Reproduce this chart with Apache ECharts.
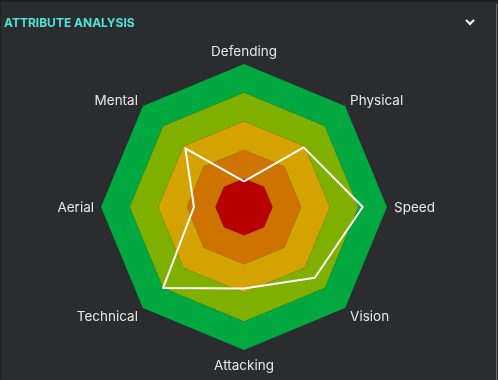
<!DOCTYPE html>
<html>
<head>
<meta charset="utf-8">
<script src="https://cdn.jsdelivr.net/npm/echarts@6/dist/echarts.min.js"></script>
<style>
html,body{margin:0;padding:0;background:#232427;}
#c{width:498px;height:380px;}
</style>
</head>
<body>
<div id="c"></div>
<script>
// Indicators listed counter-clockwise from the top (ECharts radar order)
const categories = ['Defending', 'Mental', 'Aerial', 'Technical', 'Attacking', 'Vision', 'Speed', 'Physical'];
const values = [18, 58, 35, 80, 57, 70, 83, 59];
const maxValue = 100;
const bandColors = ['#b80000', '#cf7300', '#d4a300', '#7fb000', '#00a83f'];

// per-position label style keys (top, diagonal-up, side, diagonal-down, bottom)
const labelKey = {
  Defending: 'top', Mental: 'up', Physical: 'up', Aerial: 'side', Speed: 'side',
  Technical: 'down', Vision: 'down', Attacking: 'bottom'
};
const base = {color: '#e8e8e8', fontSize: 13.5, fontFamily: 'Inter'};

const chart = echarts.init(document.getElementById('c'), null, {renderer: 'canvas'});
chart.setOption({
  backgroundColor: '#2b2c2f',
  animation: false,
  title: {
    text: 'ATTRIBUTE ANALYSIS',
    left: 4, top: 17,
    padding: 0,
    textStyle: {color: '#4fe3d6', fontSize: 12, fontWeight: 'bold', fontFamily: 'Inter'}
  },
  graphic: [
    {type: 'rect', shape: {x: 0, y: 0, width: 498, height: 2}, style: {fill: '#1f2022'}, silent: true},
    {type: 'rect', shape: {x: 0, y: 0, width: 1, height: 380}, style: {fill: '#1f2022'}, silent: true},
    {type: 'rect', shape: {x: 496, y: 4, width: 1, height: 376}, style: {fill: '#6a6b6e'}, silent: true},
    {type: 'polyline', shape: {points: [[466, 20], [470, 24], [474, 20]]},
     style: {stroke: '#ffffff', lineWidth: 2.2, fill: null}, silent: true}
  ],
  radar: {
    center: [244, 207],
    radius: 143,
    startAngle: 90,
    splitNumber: 5,
    shape: 'polygon',
    axisNameGap: 7,
    axisName: {
      color: '#e8e8e8', fontSize: 13.5, fontFamily: 'Inter',
      formatter: (name) => '{' + labelKey[name] + '|' + name + '}',
      rich: {
        top: Object.assign({lineHeight: 11}, base),
        up: Object.assign({}, base),
        side: Object.assign({padding: [2, 0, 0, 0]}, base),
        down: Object.assign({padding: [8, 0, 0, 0]}, base),
        bottom: Object.assign({padding: [2, 0, 0, 0]}, base)
      }
    },
    indicator: categories.map(n => ({name: n, max: maxValue, min: 0})),
    axisLine: {show: false},
    splitLine: {show: false},
    splitArea: {show: true, areaStyle: {color: bandColors, opacity: 1}}
  },
  series: [{
    type: 'radar',
    symbol: 'none',
    lineStyle: {color: '#ffffff', width: 2},
    areaStyle: null,
    data: [{value: values, name: 'Player'}]
  }]
});
</script>
</body>
</html>
